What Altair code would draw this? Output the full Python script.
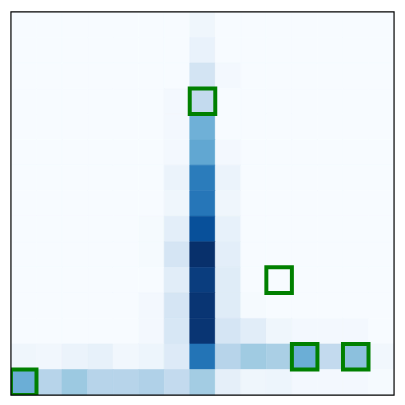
import altair as alt
import pandas as pd

n = 15
# heat values, row 0 = top
row00 = [0, 0, 0, 0, 0, 0, 0, 0.04, 0, 0, 0, 0, 0, 0, 0]
row01 = [0, 0, 0, 0, 0, 0, 0, 0.07, 0, 0, 0, 0, 0, 0, 0]
row02 = [0, 0, 0, 0, 0, 0, 0, 0.18, 0.02, 0, 0, 0, 0, 0, 0]
row03 = [0, 0, 0, 0, 0, 0, 0.02, 0.26, 0, 0, 0, 0, 0, 0, 0]
row04 = [0, 0, 0, 0, 0, 0, 0.02, 0.49, 0, 0, 0, 0, 0, 0, 0]
row05 = [0, 0, 0, 0, 0, 0, 0.02, 0.53, 0.02, 0, 0, 0, 0, 0, 0]
row06 = [0, 0, 0, 0, 0, 0, 0.06, 0.71, 0.06, 0, 0, 0, 0, 0, 0]
row07 = [0, 0, 0, 0, 0, 0, 0.04, 0.73, 0.04, 0, 0, 0, 0, 0, 0]
row08 = [0, 0, 0, 0, 0, 0.01, 0.10, 0.88, 0.08, 0, 0, 0, 0, 0, 0]
row09 = [0, 0, 0, 0, 0, 0.01, 0.17, 1.00, 0.10, 0, 0, 0, 0, 0, 0]
row10 = [0, 0, 0, 0, 0, 0, 0.11, 0.95, 0.12, 0, 0, 0, 0, 0, 0]
row11 = [0, 0, 0, 0, 0, 0.02, 0.17, 0.98, 0.12, 0.01, 0, 0, 0, 0, 0]
row12 = [0, 0, 0, 0, 0, 0.02, 0.16, 0.98, 0.17, 0.11, 0.04, 0.02, 0.02, 0.02, 0]
row13 = [0.04, 0.03, 0.06, 0.08, 0.03, 0.05, 0.13, 0.74, 0.30, 0.37, 0.34, 0.50, 0.26, 0.42, 0.03]
row14 = [0.50, 0.30, 0.38, 0.30, 0.30, 0.32, 0.26, 0.36, 0.09, 0.04, 0.05, 0.02, 0.02, 0.02, 0.01]
rows = [row00, row01, row02, row03, row04, row05, row06, row07,
        row08, row09, row10, row11, row12, row13, row14]

# highlighted cells (row, col)
box_rows = [3, 10, 13, 13, 14]
box_cols = [7, 10, 11, 13, 0]

blues = ["#f7fbff", "#deebf7", "#c6dbef", "#9ecae1", "#6baed6",
         "#4292c6", "#2171b5", "#08519c", "#08306b"]
blues_dom = [i / 8 for i in range(9)]

cells = pd.DataFrame(
    [{"row": r, "col": c, "v": rows[r][c]} for r in range(n) for c in range(n)]
)
boxes = pd.DataFrame({"row": box_rows, "col": box_cols})

xs = alt.Scale(domain=list(range(n)), paddingInner=0, paddingOuter=0)
ys = alt.Scale(domain=list(range(n)), paddingInner=0, paddingOuter=0)
cs = alt.Scale(domain=blues_dom, range=blues)

heat = alt.Chart(cells).mark_rect(strokeWidth=0.6).encode(
    x=alt.X("col:O", scale=xs, axis=None),
    y=alt.Y("row:O", scale=ys, axis=None),
    color=alt.Color("v:Q", scale=cs, legend=None),
    stroke=alt.Stroke("v:Q", scale=cs, legend=None),
)

box = alt.Chart(boxes).mark_rect(
    fillOpacity=0, stroke="green", strokeWidth=4, clip=True
).encode(
    x=alt.X("col:O", scale=xs, axis=None),
    y=alt.Y("row:O", scale=ys, axis=None),
)

frame = alt.Chart(pd.DataFrame({"k": [0]})).mark_rect(
    fillOpacity=0, stroke="black", strokeWidth=1.2
).encode(
    x=alt.value(0), x2=alt.value(385), y=alt.value(0), y2=alt.value(385)
)

chart = (heat + box + frame).properties(
    width=385, height=385, padding=10
).configure_view(stroke=None)

chart.save("out.html", embed_options={"renderer": "svg", "actions": False})
